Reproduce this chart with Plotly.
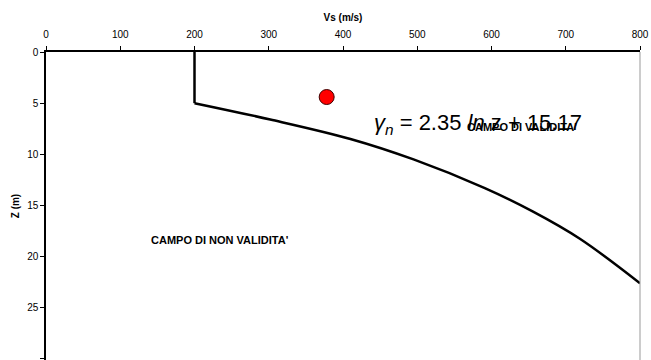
import plotly.graph_objects as go

# Vertical segment of the boundary (Vs in m/s, depth z in m)
wall_vs = [200, 200]
wall_z = [0, 5]

# Curved part of the boundary
curve_vs = [200, 302, 410, 495, 591, 656, 719, 800]
curve_z = [5, 6.6, 8.5, 10.5, 13.3, 15.6, 18.25, 22.6]

# Measured point
point_vs = [378]
point_z = [4.4]

x_ticks = [0, 100, 200, 300, 400, 500, 600, 700, 800]
y_ticks = [0, 5, 10, 15, 20, 25, 30]

FONT = "Liberation Sans, Arial, sans-serif"

fig = go.Figure()
fig.add_trace(go.Scatter(x=wall_vs, y=wall_z, mode="lines",
                         line=dict(color="black", width=2.5), showlegend=False,
                         hoverinfo="skip"))
fig.add_trace(go.Scatter(x=curve_vs, y=curve_z, mode="lines",
                         line=dict(color="black", width=2.5, shape="spline",
                                   smoothing=1.0),
                         showlegend=False, hoverinfo="skip"))
fig.add_trace(go.Scatter(x=point_vs, y=point_z, mode="markers",
                         marker=dict(color="#ff0000", size=15,
                                     line=dict(color="#400000", width=1)),
                         showlegend=False))

fig.update_layout(
    width=651, height=360,
    margin=dict(l=46, r=11, t=52, b=0),
    paper_bgcolor="white", plot_bgcolor="white",
    font=dict(family=FONT, size=10, color="black"),
    xaxis=dict(side="top", range=[0, 800], tickvals=x_ticks,
               ticktext=[str(v) for v in x_ticks],
               showgrid=False, zeroline=False, showline=True,
               linecolor="black", linewidth=1.5, ticks="outside",
               ticklen=4, tickcolor="black", ticklabelstandoff=4,
               title=dict(text="<b>Vs (m/s)</b>", font=dict(size=10), standoff=6)),
    yaxis=dict(range=[30.1, 0], tickvals=y_ticks,
               ticktext=[str(v) for v in y_ticks],
               showgrid=False, zeroline=False, showline=True,
               linecolor="black", linewidth=1.5, ticks="outside",
               ticklen=4, tickcolor="black",
               title=dict(text="<b>Z (m)</b>", font=dict(size=10), standoff=6)),
    shapes=[dict(type="line", xref="paper", yref="paper", x0=1, x1=1, y0=0, y1=1,
                 line=dict(color="#999999", width=1))],
    annotations=[
        dict(x=582, y=7.0, xref="x", yref="y", showarrow=False,
             text="<i>γ</i><sub><i>n</i></sub> = 2.35 <i>ln</i> z + 15.17",
             font=dict(family=FONT, size=22, color="black")),
        dict(x=641, y=7.3, xref="x", yref="y", showarrow=False,
             text="<b>CAMPO DI VALIDITA'</b>",
             font=dict(family=FONT, size=11, color="black")),
        dict(x=235, y=18.4, xref="x", yref="y", showarrow=False,
             text="<b>CAMPO DI NON VALIDITA'</b>",
             font=dict(family=FONT, size=11, color="black")),
    ],
)

fig.write_html("out.html")
